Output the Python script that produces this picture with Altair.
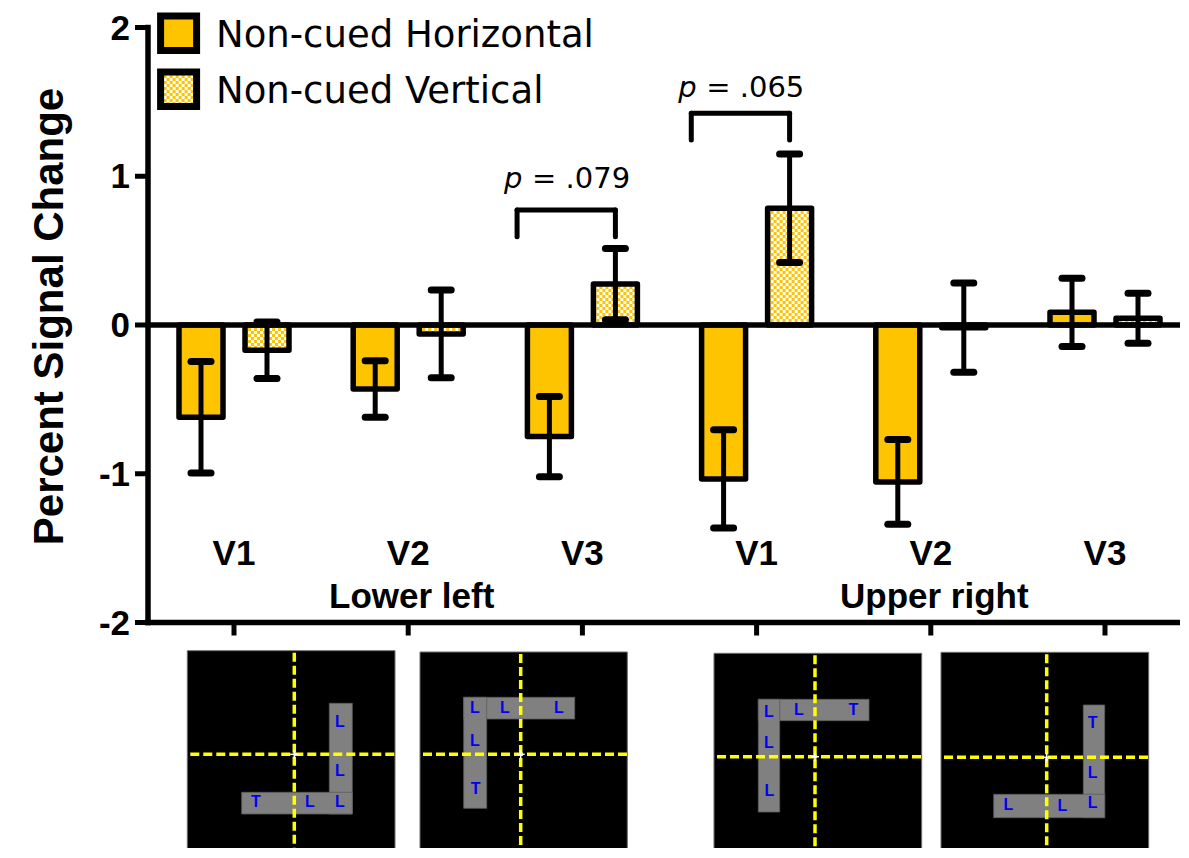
import altair as alt
import pandas as pd

# ---------------- data ----------------
areas = ["V1", "V2", "V3", "V1", "V2", "V3"]
regions = ["Lower left", "Upper right"]
region_center_group = [1, 4]
series_names = ["Non-cued Horizontal", "Non-cued Vertical"]
horiz_mean = [-0.62, -0.43, -0.75, -1.035, -1.055, 0.085]
horiz_se = [0.375, 0.19, 0.27, 0.33, 0.285, 0.23]
vert_mean = [-0.17, -0.06, 0.275, 0.785, -0.018, 0.045]
vert_se = [0.19, 0.295, 0.24, 0.365, 0.30, 0.168]
y_tick_values = [-2, -1, 0, 1, 2]
y_tick_labels = ["-2", "-1", "0", "1", "2"]
p_groups = [2, 3]
p_labels = ["= .079", "= .065"]
p_bracket_top = [0.773, 1.423]
p_text_y = [0.921, 1.533]

# stimulus pictures (relative pixel geometry around the fixation point, y up)
stim_arms = [
    [(35, 58, -59.7, 51), (-52.6, 58, -59.7, -38)],
    [(-57, 54, 35.3, 57), (-57, -34, -54, 57)],
    [(-56.7, 54, 36, 57.4), (-56.7, -35.3, -55.3, 57.4)],
    [(36.6, 58, -60.4, 52.3), (-53, 58, -60.4, -37)],
]
stim_letters = [
    [("L", 45.7, 32.6), ("L", 45.7, -16.7), ("L", 45.7, -48), ("L", 15.7, -48), ("T", -38.3, -48)],
    [("L", -45.7, 46), ("L", -15.7, 46), ("L", 38.3, 46), ("L", -45.7, 13.6), ("T", -45, -34.7)],
    [("L", -46, 45), ("L", -16, 46.7), ("T", 38.3, 46.7), ("L", -46, 14), ("L", -45.7, -34)],
    [("T", 46, 34.6), ("L", 46, -16), ("L", 46, -46), ("L", 15.6, -48.4), ("L", -38.4, -47.7)],
]

# ---------------- layout ----------------
PXX, G0, PXY, Y0 = 174.2, 234.0, 148.75, 325.0


def tx(px):
    return (px - G0) / PXX


def ty(py):
    return (Y0 - py) / PXY


def dx(p):
    return p / PXX


def dy(p):
    return p / PXY


LEFT, RIGHT, TOP, BOTTOM = 148, 1180, 10, 848
XMIN, XMAX, YMIN, YMAX = tx(LEFT), tx(RIGHT), ty(BOTTOM), ty(TOP)
XS = alt.Scale(domain=[XMIN, XMAX], nice=False, zero=False)
YS = alt.Scale(domain=[YMIN, YMAX], nice=False, zero=False)

BOLD = "Liberation Sans, Arial, Helvetica, sans-serif"
REG = "DejaVu Sans, Verdana, sans-serif"
GOLD = "#FFC400"
OFF, HW, CAP = dx(33), dx(22), dx(10)
stim_centers_px = [(294.3, 754.3), (520.7, 754.3), (815.0, 756.7), (1046.7, 757.3)]
stim_box = [(-107, 100.7, 103.6), (-100.7, 106.6, 102.3), (-101, 106.7, 103.4), (-105.7, 102, 105)]


def X(f):
    return alt.X(f + ":Q", scale=XS, axis=None)


def Y(f):
    return alt.Y(f + ":Q", scale=YS, axis=None)


def seg(rows):
    return pd.DataFrame(rows, columns=["x1", "x2", "y1", "y2"])


def rule_layer(df, **kw):
    return alt.Chart(df).mark_rule(**kw).encode(x=X("x1"), x2="x2", y=Y("y1"), y2="y2")


def rect_layer(df, **kw):
    return alt.Chart(df).mark_rect(**kw).encode(x=X("x1"), x2="x2", y=Y("y1"), y2="y2")


def text_layer(df, **kw):
    return alt.Chart(df).mark_text(**kw).encode(x=X("x"), y=Y("y"), text="t:N")


# ---------------- bars ----------------
bars = []
for i in range(6):
    for s, means, ses, off in ((series_names[0], horiz_mean, horiz_se, -OFF),
                               (series_names[1], vert_mean, vert_se, OFF)):
        xc = i + off
        bars.append(dict(series=s, xc=xc, x1=xc - HW, x2=xc + HW, y1=0.0, y2=means[i],
                         lo=means[i] - ses[i], hi=means[i] + ses[i]))
bars = pd.DataFrame(bars)
hbars = bars[bars.series == series_names[0]]
vbars = bars[bars.series == series_names[1]]


def checker_cols(x1, x2, y1, y2, step=3.0):
    cols = []
    wpx = (x2 - x1) * PXX
    n = int(round(wpx / step))
    for k in range(n):
        cx = x1 + dx(step * (k + 0.5))
        cols.append(dict(x=cx, y1=y1, y2=y2, par=k % 2))
    return cols


cells = []
for _, r in vbars.iterrows():
    cells += checker_cols(r.x1, r.x2, 0.0, r.y2)

# legend swatches
leg_sw = seg([
    (tx(160.6), tx(196.6), ty(16), ty(50.6)),
    (tx(160.6), tx(196.6), ty(72), ty(106.6)),
])
cells += checker_cols(leg_sw.x1[1], leg_sw.x2[1], leg_sw.y1[1], leg_sw.y2[1])
cells = pd.DataFrame(cells)


def checker_layer(par, offset):
    return alt.Chart(cells[cells.par == par]).mark_rule(
        color=GOLD, strokeWidth=3.1, strokeDash=[3, 3], strokeDashOffset=offset
    ).encode(x=X("x"), y=Y("y1"), y2="y2")


# ---------------- axes ----------------
axis_lines = seg([(XMIN, XMAX, -2.0, -2.0), (XMIN, XMAX, 0.0, 0.0), (XMIN, XMIN, -2.0, 2.0)])
xticks = seg([(i, i, -2.0, -2.0 - dy(13)) for i in range(6)])
yticks = seg([(XMIN - dx(13), XMIN, v, v) for v in y_tick_values])
ytick_txt = pd.DataFrame(dict(x=[XMIN - dx(18)] * 5, y=y_tick_values, t=y_tick_labels))

# ---------------- error bars ----------------
stems = seg([(r.xc, r.xc, r.lo, r.hi) for _, r in bars.iterrows()])
caps = seg([(r.xc - CAP, r.xc + CAP, v, v) for _, r in bars.iterrows() for v in (r.lo, r.hi)])

# ---------------- significance brackets ----------------
br = []
ptxt_p, ptxt_rest = [], []
for g, lab, top, tyv in zip(p_groups, p_labels, p_bracket_top, p_text_y):
    xl, xr = g - 0.375, g + OFF
    br += [(xl, xr, top, top), (xl, xl, top, top - 0.18), (xr, xr, top, top - 0.18)]
    ptxt_p.append(dict(x=g - 0.45, y=tyv, t="p"))
    ptxt_rest.append(dict(x=g - 0.45, y=tyv, t=lab))
br = seg(br)

# ---------------- texts ----------------
area_txt = pd.DataFrame(dict(x=list(range(6)), y=[ty(565)] * 6, t=areas))
region_txt = pd.DataFrame(dict(x=[g + 0.02 for g in region_center_group], y=[ty(608)] * 2, t=regions))
legend_txt = pd.DataFrame(dict(x=[tx(216)] * 2, y=[ty(46.7), ty(103)], t=series_names))
title_txt = pd.DataFrame(dict(x=[tx(63)], y=[ty(316.5)], t=["Percent Signal Change"]))

# ---------------- stimulus panels ----------------
boxes, arms, letters, hair, fix = [], [], [], [], []
for (cx, cy), (bx0, bx1, btop), parm, plet in zip(stim_centers_px, stim_box, stim_arms, stim_letters):
    ox, oy = tx(cx), ty(cy)
    boxes.append((ox + dx(bx0), ox + dx(bx1), oy + dy(btop), oy - dy(115)))
    for (a0, a1, b0, b1) in parm:
        arms.append((ox + dx(a0), ox + dx(a1), oy + dy(b0), oy + dy(b1)))
    for (t, lx, ly) in plet:
        letters.append(dict(x=ox + dx(lx), y=oy + dy(ly), t=t))
    hair.append((ox + dx(bx0 + 3), ox + dx(bx1 + 3), oy, oy))
    hair.append((ox, ox, oy + dy(btop - 2), oy - dy(115)))
    fix.append((ox - dx(4), ox + dx(4), oy, oy))
    fix.append((ox, ox, oy - dy(4), oy + dy(4)))
boxes, arms, hair, fix = seg(boxes), seg(arms), seg(hair), seg(fix)
letters = pd.DataFrame(letters)

layers = [
    rect_layer(boxes, fill="black", stroke="#6e6e6e", strokeWidth=1),
    rect_layer(arms, fill="#808080", stroke="#5c5c5c", strokeWidth=0.8),
    text_layer(letters, font=BOLD, fontSize=16, fontWeight="bold", color="#0000EE",
               align="center", baseline="middle"),
    rule_layer(hair, color="#FFFF00", strokeWidth=3.5, strokeDash=[9, 4]),
    rule_layer(fix, color="white", strokeWidth=1.5),
    # bars
    rect_layer(hbars[["x1", "x2", "y1", "y2"]], fill=GOLD, stroke="black", strokeWidth=5.5, strokeJoin="round"),
    rect_layer(vbars[["x1", "x2", "y1", "y2"]], fill="white"),
    rect_layer(leg_sw.iloc[[0]], fill=GOLD, stroke="black", strokeWidth=7),
    rect_layer(leg_sw.iloc[[1]], fill="white"),
    checker_layer(0, 0),
    checker_layer(1, 3),
    rect_layer(vbars[["x1", "x2", "y1", "y2"]], fill="white", fillOpacity=0, stroke="black",
               strokeWidth=5.5, strokeJoin="round"),
    rect_layer(leg_sw.iloc[[1]], fill="white", fillOpacity=0, stroke="black", strokeWidth=7),
    # axes
    rule_layer(axis_lines, color="black", strokeWidth=5.5, strokeCap="square"),
    rule_layer(xticks, color="black", strokeWidth=5),
    rule_layer(yticks, color="black", strokeWidth=5),
    text_layer(ytick_txt, font=BOLD, fontSize=35, fontWeight="bold", color="black",
               align="right", baseline="middle", dy=1),
    # error bars
    rule_layer(stems, color="black", strokeWidth=5),
    rule_layer(caps, color="black", strokeWidth=7, strokeCap="round"),
    # brackets
    rule_layer(br, color="black", strokeWidth=5, strokeCap="round"),
    text_layer(pd.DataFrame(ptxt_p), font=REG, fontSize=29, fontStyle="italic", color="black",
               align="left", baseline="alphabetic"),
    text_layer(pd.DataFrame(ptxt_rest), font=REG, fontSize=29, color="black", align="left",
               baseline="alphabetic", dx=28),
    # labels
    text_layer(area_txt, font=BOLD, fontSize=35, fontWeight="bold", color="black",
               align="center", baseline="alphabetic"),
    text_layer(region_txt, font=BOLD, fontSize=35, fontWeight="bold", color="black",
               align="center", baseline="alphabetic"),
    text_layer(legend_txt, font=REG, fontSize=37, color="black", align="left", baseline="alphabetic"),
    text_layer(title_txt, font=BOLD, fontSize=42, fontWeight="bold", color="black",
               align="center", baseline="alphabetic", angle=270),
]

chart = alt.layer(*layers).properties(
    width=RIGHT - LEFT,
    height=BOTTOM - TOP,
    padding={"left": LEFT - 8, "top": TOP - 8, "right": 0, "bottom": 0},
    autosize=alt.AutoSizeParams(type="none"),
    background="white",
).configure_view(stroke=None)

chart.save("out.html", embed_options={"renderer": "svg", "actions": False})
